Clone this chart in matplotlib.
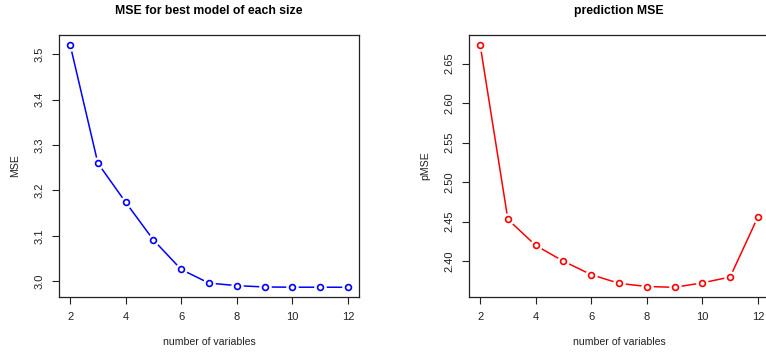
import numpy as np
import matplotlib
matplotlib.use("Agg")
import matplotlib.pyplot as plt

# values
n_vars = [2, 3, 4, 5, 6, 7, 8, 9, 10, 11, 12]
mse = [3.521, 3.260, 3.174, 3.091, 3.026, 2.996, 2.9905, 2.9875, 2.987, 2.987, 2.9868]
pmse = [2.674, 2.453, 2.420, 2.400, 2.383, 2.372, 2.368, 2.367, 2.3726, 2.380, 2.456]

mse_ticks = [3.0, 3.1, 3.2, 3.3, 3.4, 3.5]
pmse_ticks = [2.40, 2.45, 2.50, 2.55, 2.60, 2.65]
x_ticks = [2, 4, 6, 8, 10, 12]

plt.rcParams['font.family'] = ['Liberation Sans', 'DejaVu Sans']

fig = plt.figure(figsize=(7.66, 3.56), dpi=100)
ax1 = fig.add_axes([59 / 766, 59 / 356, 300 / 766, 262 / 356])
ax2 = fig.add_axes([469 / 766, 59 / 356, 300 / 766, 262 / 356])


def r_plot(ax, y, color, title, ylabel, yticks, fmt):
    # type="b": lines with small gaps round the open circles
    ax.plot(n_vars, y, color=color, lw=1.1, zorder=2)
    ax.plot(n_vars, y, ls='none', marker='o', ms=9, mfc='white', mec='none', zorder=3)
    ax.plot(n_vars, y, ls='none', marker='o', ms=4.2, mfc='none', mec=color, mew=1.2, zorder=4)
    rng = max(y) - min(y)
    ax.set_ylim(min(y) - 0.04 * rng, max(y) + 0.04 * rng)
    ax.set_xlim(1.6, 12.4)
    ax.set_xticks(x_ticks)
    ax.set_yticks(yticks)
    ax.set_yticklabels([fmt.format(v) for v in yticks], rotation=90, va='center')
    ax.tick_params(length=5, width=0.8, labelsize=8, pad=5.5, colors='#222222')
    for s in ax.spines.values():
        s.set_linewidth(0.9)
        s.set_color('#222222')
    ax.set_title(title, fontsize=8.8, fontweight='bold', pad=15)
    ax.set_xlabel('number of variables', fontsize=7.6, labelpad=11, color='#222222')
    ax.set_ylabel(ylabel, fontsize=7.6, labelpad=10, color='#222222')


r_plot(ax1, mse, '#0000FF', 'MSE for best model of each size', 'MSE', mse_ticks, '{:.1f}')
r_plot(ax2, pmse, '#FF0000', 'prediction MSE', 'pMSE', pmse_ticks, '{:.2f}')

fig.savefig('out.png', dpi=100)
